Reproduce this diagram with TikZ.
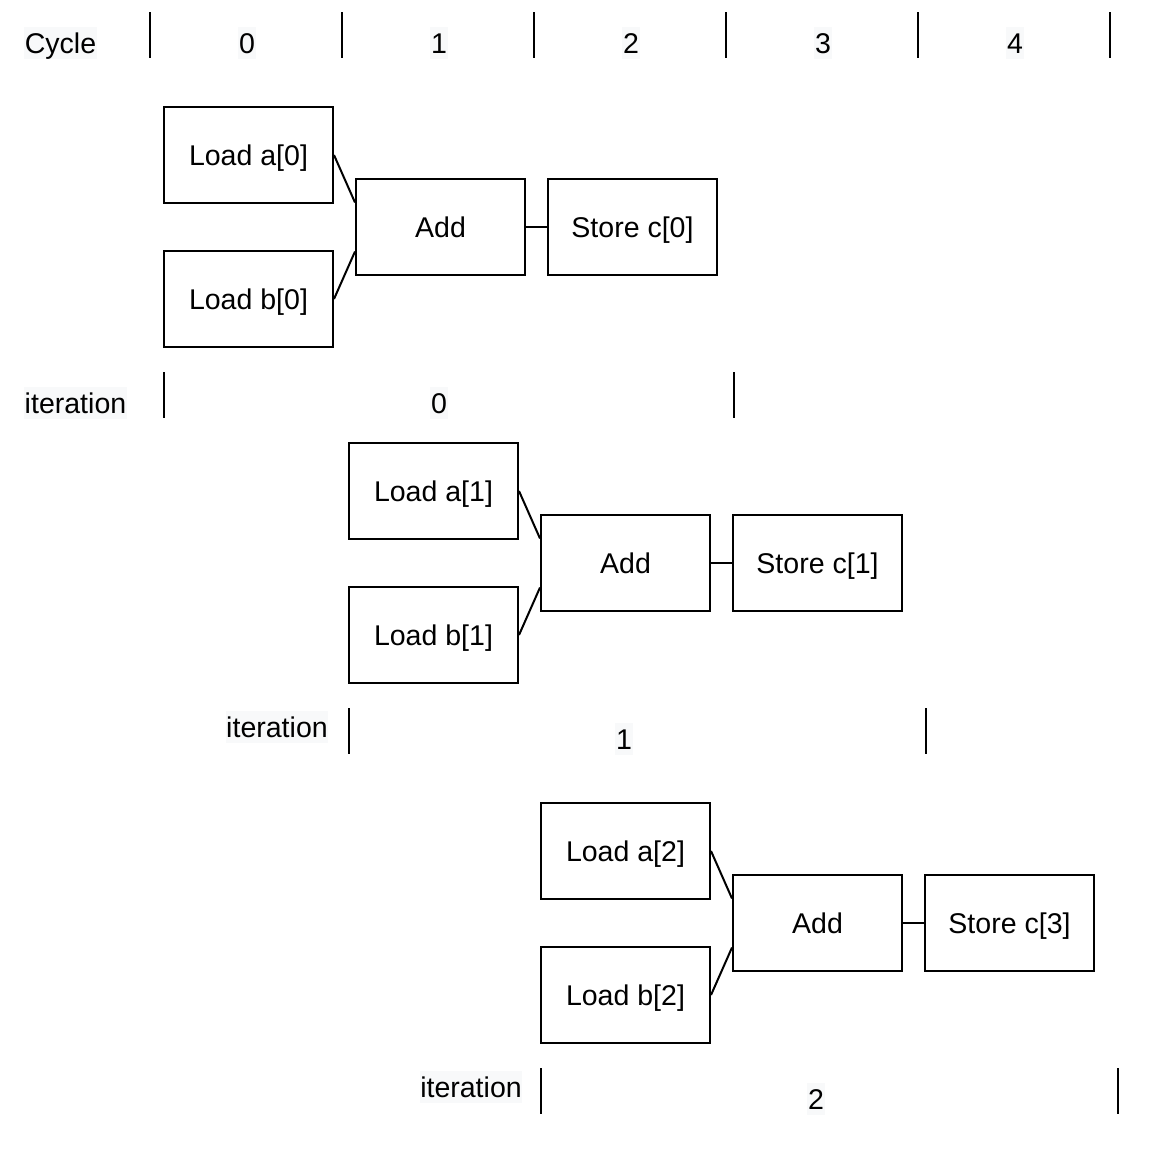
\documentclass[tikz,border=0pt]{standalone}
\usepackage{fontspec}
\setmainfont{Liberation Sans}
\usetikzlibrary{calc}
\definecolor{labelbg}{HTML}{F8F9FA}
\begin{document}
\begin{tikzpicture}[x=0.75pt,y=-0.75pt,
  font=\fontsize{21.4}{25}\selectfont,
  opbox/.style={draw,line width=1.5pt,minimum width=126.75pt,minimum height=72pt,inner sep=0pt,text height=15.3pt,text depth=0pt},
  tag/.style={fill=labelbg,inner xsep=0.5pt,inner ysep=4.6pt,text height=15.3pt,text depth=0pt},
  tick/.style={line width=1.5pt},
  wire/.style={line width=1.5pt}]
\useasboundingbox (0,0) rectangle (1170,1158);

% cycle header
\node[tag] (cyc) at (60.5,43) {Cycle};
\foreach \x in {150,342,534,726,918,1110}
  \draw[tick] (\x,12) -- (\x,58);
\foreach \n/\x in {0/247,1/439,2/631,3/823,4/1015}
  \node[tag] (c\n) at (\x,43) {\n};

% iteration 0
\node[opbox] (la0) at (248.5,155) {Load a[0]};
\node[opbox] (lb0) at (248.5,299) {Load b[0]};
\node[opbox] (ad0) at (440.5,227) {Add};
\node[opbox] (st0) at (632.5,227) {Store c[0]};
\draw[wire] (la0.east) -- ($(ad0.north west)!0.25!(ad0.south west)$);
\draw[wire] (lb0.east) -- ($(ad0.north west)!0.75!(ad0.south west)$);
\draw[wire] (ad0.east) -- (st0.west);
\node[tag] (it0) at (75.5,403) {iteration};
\draw[tick] (164,372) -- (164,418);
\node[tag] (n0) at (439,403) {0};
\draw[tick] (734,372) -- (734,418);

% iteration 1
\node[opbox] (la1) at (433.5,491) {Load a[1]};
\node[opbox] (lb1) at (433.5,635) {Load b[1]};
\node[opbox] (ad1) at (625.5,563) {Add};
\node[opbox] (st1) at (817.5,563) {Store c[1]};
\draw[wire] (la1.east) -- ($(ad1.north west)!0.25!(ad1.south west)$);
\draw[wire] (lb1.east) -- ($(ad1.north west)!0.75!(ad1.south west)$);
\draw[wire] (ad1.east) -- (st1.west);
\node[tag] (it1) at (277,727) {iteration};
\draw[tick] (349,708) -- (349,754);
\node[tag] (n1) at (624,739) {1};
\draw[tick] (926,708) -- (926,754);

% iteration 2
\node[opbox] (la2) at (625.5,851) {Load a[2]};
\node[opbox] (lb2) at (625.5,995) {Load b[2]};
\node[opbox] (ad2) at (817.5,923) {Add};
\node[opbox] (st2) at (1009.5,923) {Store c[3]};
\draw[wire] (la2.east) -- ($(ad2.north west)!0.25!(ad2.south west)$);
\draw[wire] (lb2.east) -- ($(ad2.north west)!0.75!(ad2.south west)$);
\draw[wire] (ad2.east) -- (st2.west);
\node[tag] (it2) at (471,1087) {iteration};
\draw[tick] (541,1068) -- (541,1114);
\node[tag] (n2) at (816,1099) {2};
\draw[tick] (1118,1068) -- (1118,1114);
\end{tikzpicture}
\end{document}
